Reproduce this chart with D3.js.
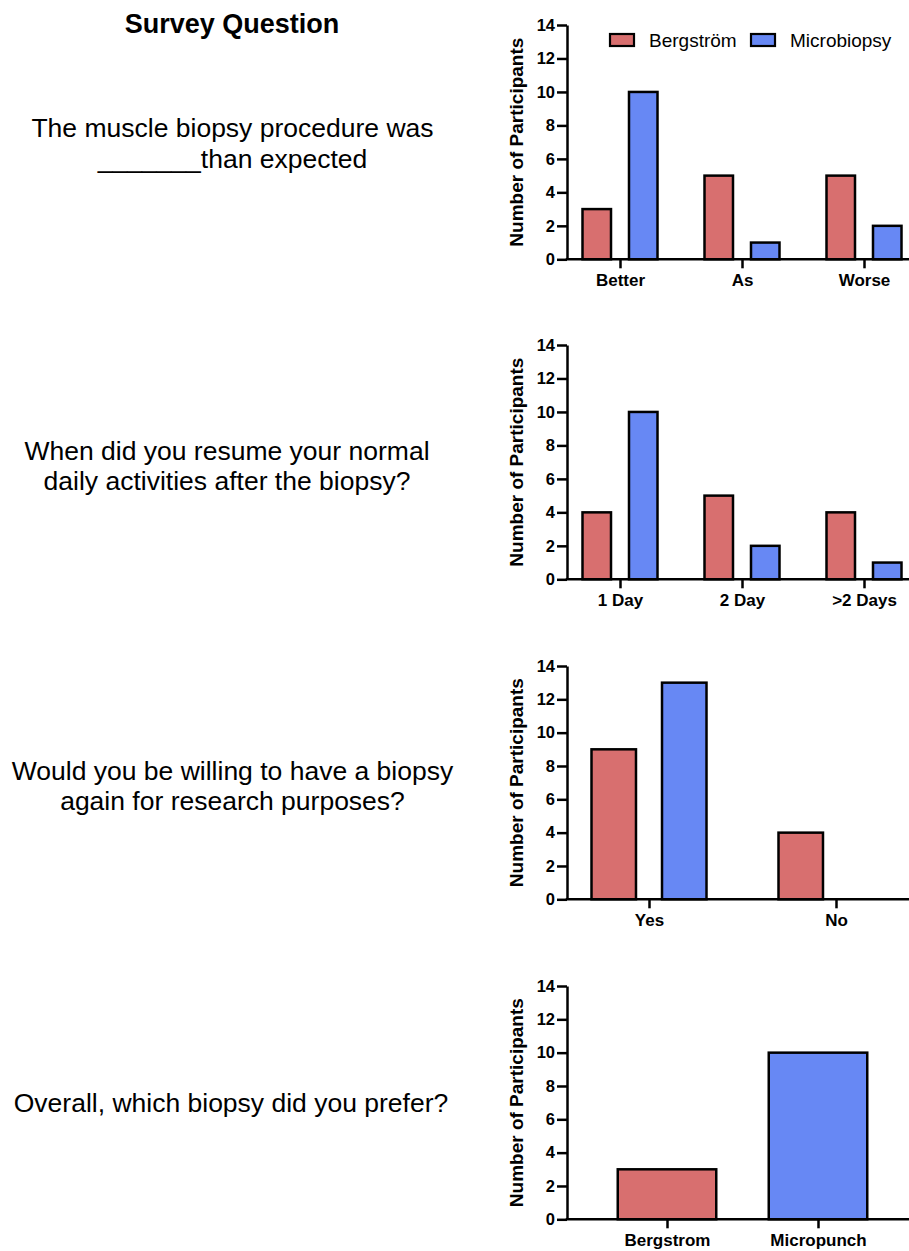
<!DOCTYPE html>
<html>
<head>
<meta charset="utf-8">
<script src="https://cdn.jsdelivr.net/npm/d3@7"></script>
<style>
  html, body { margin: 0; padding: 0; background: #fff; }
  svg { display: block; }
  text { font-family: "Liberation Sans", Arial, sans-serif; fill: #000; }
</style>
</head>
<body>
<svg id="chart" width="909" height="1251"></svg>
<script>
// ---------------- DATA ----------------
const headerText = "Survey Question";
const question1 = ["The muscle biopsy procedure was", "_______than expected"];
const question2 = ["When did you resume your normal", "daily activities after the biopsy?"];
const question3 = ["Would you be willing to have a biopsy", "again for research purposes?"];
const question4 = ["Overall, which biopsy did you prefer?"];

const seriesNames = ["Bergström", "Microbiopsy"];

const categories1 = ["Better", "As", "Worse"];
const bergstrom1 = [3, 5, 5];
const microbiopsy1 = [10, 1, 2];

const categories2 = ["1 Day", "2 Day", ">2 Days"];
const bergstrom2 = [4, 5, 4];
const microbiopsy2 = [10, 2, 1];

const categories3 = ["Yes", "No"];
const bergstrom3 = [9, 4];
const microbiopsy3 = [13, 0];

const categories4 = ["Bergstrom", "Micropunch"];
const preference4 = [3, 10];

const yTicks = [0, 2, 4, 6, 8, 10, 12, 14];
const yAxisTitle = "Number of Participants";

// ---------------- STYLE ----------------
const RED = "#d86f6f";
const BLUE = "#6788f4";
const AXIS_X = 567;
const AXIS_END = 909;
const SW = 2.5;

const svg = d3.select("#chart");

// Left column text
svg.append("text").attr("x", 232).attr("y", 33)
  .attr("text-anchor", "middle").attr("font-weight", "bold")
  .attr("font-size", 27).text(headerText);

function question(lines, baselines, cx) {
  lines.forEach((t, i) => {
    svg.append("text").attr("x", cx).attr("y", baselines[i])
      .attr("text-anchor", "middle").attr("font-size", 26.5).text(t);
  });
}
question(question1, [137, 168], 232.5);
question(question2, [460, 490], 227);
question(question3, [780, 810], 232.5);
question(question4, [1112], 231);

// Panel builder
function panel(opts) {
  const g = svg.append("g");
  const y = d3.scaleLinear().domain([0, 14]).range([opts.y0, opts.y14]);
  const x = d3.scalePoint().domain(opts.categories).range(opts.xRange);

  // bars
  if (opts.series) {
    const inner = d3.scaleBand().domain(seriesNames)
      .range([-opts.groupHalf, opts.groupHalf]).paddingInner(opts.innerPad).paddingOuter(0);
    opts.series.forEach((vals, si) => {
      g.selectAll(null).data(opts.categories.map((c, i) => ({c, v: vals[i]})).filter(d => d.v > 0))
        .enter().append("rect")
        .attr("x", d => x(d.c) + inner(seriesNames[si]))
        .attr("width", inner.bandwidth())
        .attr("y", d => y(d.v))
        .attr("height", d => y(0) - y(d.v))
        .attr("fill", si === 0 ? RED : BLUE)
        .attr("stroke", "#000").attr("stroke-width", SW);
    });
  } else {
    g.selectAll(null).data(opts.categories.map((c, i) => ({c, v: opts.values[i], i})))
      .enter().append("rect")
      .attr("x", d => x(d.c) - opts.barWidth / 2)
      .attr("width", opts.barWidth)
      .attr("y", d => y(d.v))
      .attr("height", d => y(0) - y(d.v))
      .attr("fill", d => d.i === 0 ? RED : BLUE)
      .attr("stroke", "#000").attr("stroke-width", SW);
  }

  // y axis
  const ya = g.append("g").attr("transform", `translate(${AXIS_X},0)`)
    .call(d3.axisLeft(y).tickValues(yTicks).tickSize(10).tickPadding(2).tickSizeOuter(0));
  ya.select(".domain").attr("stroke", "#000").attr("stroke-width", SW);
  ya.selectAll(".tick line").attr("stroke", "#000").attr("stroke-width", SW);
  ya.selectAll(".tick text").attr("font-family", "Liberation Sans, Arial, sans-serif")
    .attr("font-size", 16.5).attr("font-weight", "bold").attr("fill", "#000");

  // x axis
  const xa = g.append("g").attr("transform", `translate(0,${opts.y0})`)
    .call(d3.axisBottom(x).tickSize(9).tickPadding(6));
  xa.select(".domain").remove();
  xa.append("line").attr("x1", AXIS_X - SW / 2).attr("x2", AXIS_END).attr("y1", 0).attr("y2", 0)
    .attr("stroke", "#000").attr("stroke-width", SW);
  xa.selectAll(".tick line").attr("stroke", "#000").attr("stroke-width", SW);
  xa.selectAll(".tick text").attr("font-family", "Liberation Sans, Arial, sans-serif")
    .attr("font-size", 17).attr("font-weight", "bold").attr("fill", "#000");

  // y title
  const cy = (opts.y0 + opts.y14) / 2;
  g.append("text").attr("transform", `translate(523,${cy}) rotate(-90)`)
    .attr("text-anchor", "middle").attr("font-weight", "bold").attr("font-size", 19)
    .text(yAxisTitle);
  return g;
}

panel({categories: categories1, series: [bergstrom1, microbiopsy1], y0: 259.3, y14: 25,
  xRange: [620, 864], groupHalf: 37.5, innerPad: 0.387});
panel({categories: categories2, series: [bergstrom2, microbiopsy2], y0: 579.3, y14: 345,
  xRange: [620, 864], groupHalf: 37.5, innerPad: 0.387});
panel({categories: categories3, series: [bergstrom3, microbiopsy3], y0: 899.3, y14: 666,
  xRange: [649, 836], groupHalf: 57.5, innerPad: 0.369});
panel({categories: categories4, values: preference4, y0: 1219.3, y14: 986,
  xRange: [667, 818], barWidth: 98.5});

// Legend (top panel)
const legend = svg.append("g");
const legendX = [610, 751];
seriesNames.forEach((name, i) => {
  legend.append("rect").attr("x", legendX[i]).attr("y", 34).attr("width", 24).attr("height", 12)
    .attr("fill", i === 0 ? RED : BLUE).attr("stroke", "#000").attr("stroke-width", 2.2);
  legend.append("text").attr("x", legendX[i] + 39).attr("y", 47).attr("font-size", 19).text(name);
});
</script>
</body>
</html>
